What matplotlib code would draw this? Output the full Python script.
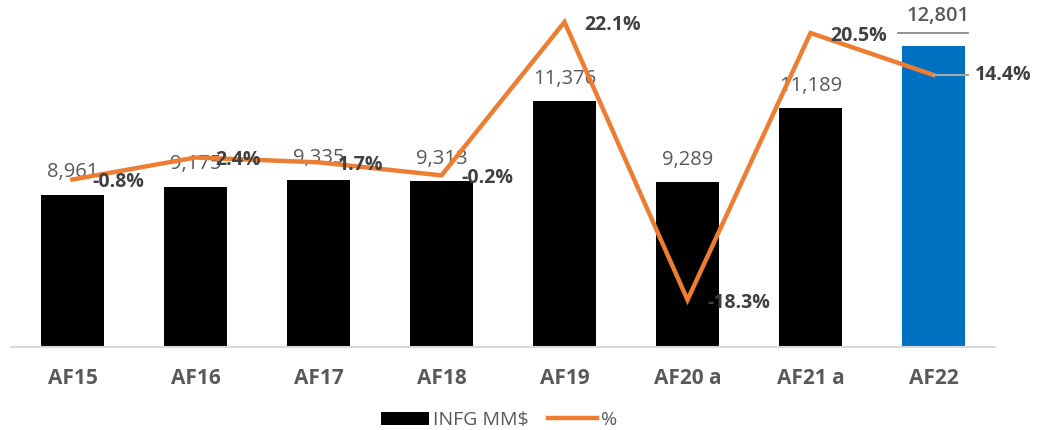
import matplotlib
matplotlib.use("Agg")
import matplotlib.pyplot as plt
from matplotlib.lines import Line2D
from matplotlib.patches import Patch

plt.rcParams['font.family'] = ['Open Sans', 'DejaVu Sans']

categories = ["AF15", "AF16", "AF17", "AF18", "AF19", "AF20 a", "AF21 a", "AF22"]
infg = [8961, 9175, 9335, 9313, 11376, 9289, 11189, 12801]
pct = [-0.8, 2.4, 1.7, -0.2, 22.1, -18.3, 20.5, 14.4]
pct_labels = ["-0.8%", "2.4%", "1.7%", "-0.2%", "22.1%", "-18.3%", "20.5%", "14.4%"]

W, H = 1039, 430
fig = plt.figure(figsize=(W / 100, H / 100), dpi=100)
ax = fig.add_axes([11 / W, (H - 347) / H, 984 / W, 347 / H])
ax2 = ax.twinx()

x = list(range(len(categories)))
colors = ["#000000"] * (len(categories) - 1) + ["#0070C0"]
ax.bar(x, infg, width=0.51, color=colors, zorder=2)
ax.set_ylim(5040, 13980)
ax.set_xlim(-0.5, len(categories) - 0.5)

ax2.plot(x, pct, color="#ED7D31", lw=3.2, solid_joinstyle="miter", zorder=3)
ax2.set_ylim(-25.15, 25.3)

for a in (ax, ax2):
    for s in a.spines.values():
        s.set_visible(False)
    a.set_yticks([])
ax.spines['bottom'].set_visible(True)
ax.spines['bottom'].set_color("#D9D9D9")
ax.spines['bottom'].set_linewidth(1.5)

ax.set_xticks(x)
ax.set_xticklabels(categories, fontsize=15, fontweight="bold", color="#595959")
ax.tick_params(axis="x", length=0, pad=15)

# bar value labels
for i, v in enumerate(infg):
    if i == len(infg) - 1:
        continue
    ax.annotate(f"{v:,}", (i, v), xytext=(0, 9), textcoords="offset points",
                ha="center", va="bottom", fontsize=14.5, color="#595959", zorder=5)

# last bar label with leader line
last = len(infg) - 1
ax.annotate(f"{infg[last]:,}", (last, infg[last]), xytext=(3, 14), textcoords="offset points",
            ha="center", va="bottom", fontsize=14.5, color="#595959", fontweight="semibold", zorder=5)
y_under = ax.transData.inverted().transform(ax.transData.transform((last, infg[last])) + [0, 13])[1]
ax.plot([last - 0.29, last + 0.28], [y_under, y_under], color="#7F7F7F", lw=1.2, zorder=5)

# percentage labels
for i, (p, lab) in enumerate(zip(pct, pct_labels)):
    if i == last:
        continue
    ax2.annotate(lab, (i, p), xytext=(14, -2), textcoords="offset points",
                 ha="left", va="center", fontsize=14, fontweight="bold", color="#404040", zorder=6)
ax2.annotate(pct_labels[last], (last, pct[last]), xytext=(30, 0), textcoords="offset points",
             ha="left", va="center", fontsize=14, fontweight="bold", color="#404040", zorder=6)
ax2.plot([last, last + 0.28], [pct[last], pct[last]], color="#A6A6A6", lw=1.5, zorder=4)

handles = [Patch(facecolor="#000000", edgecolor="none"),
           Line2D([0], [0], color="#ED7D31", lw=3.2)]
fig.legend(handles, ["INFG MM$", "%"], loc="center", bbox_to_anchor=(499 / W, 1 - 420 / H),
           ncol=2, frameon=False, fontsize=14, labelcolor="#595959",
           handlelength=2.5, handleheight=0.65, columnspacing=1.0, handletextpad=0.2)

fig.savefig("out.png", dpi=100)
